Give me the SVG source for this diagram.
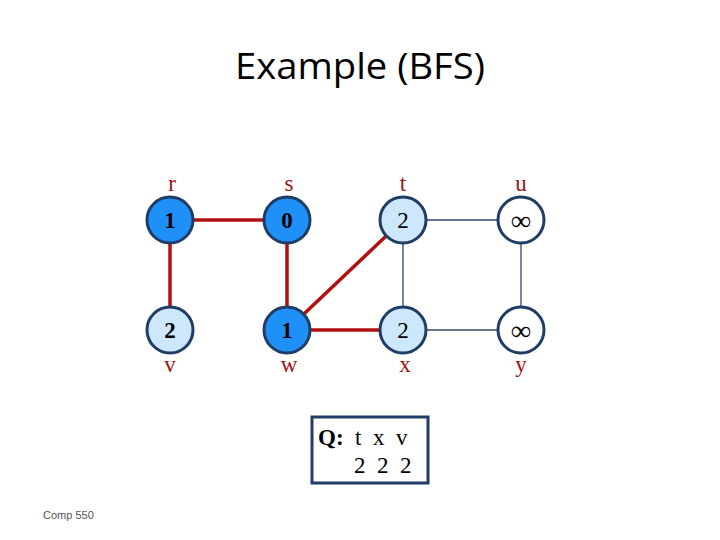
<svg xmlns="http://www.w3.org/2000/svg" width="720" height="540" viewBox="0 0 720 540">
<style>
.title{font-family:"Open Sans","Liberation Sans",Arial,sans-serif;font-size:36px;fill:#000}
.lbl{font-family:"Liberation Serif","Times New Roman",serif;font-size:23px;fill:#A01010;text-anchor:middle}
.num{font-family:"Liberation Serif","Times New Roman",serif;font-size:23px;fill:#000;text-anchor:middle}
.b{font-weight:bold}
.inf{font-size:28px;font-weight:bold}
.node{stroke:#1F3D66;stroke-width:3}
.black{fill:#1E90F8}
.gray{fill:#CDE8FC}
.white{fill:#fff}
.tree{stroke:#B01010;stroke-width:3.5;fill:none}
.edge{stroke:#2F4A6E;stroke-width:1.3;fill:none}
.q{font-family:"Liberation Serif","Times New Roman",serif;font-size:23px;fill:#000}
</style>
<rect width="720" height="540" fill="#fff"/>
<text class="title" x="360" y="79" text-anchor="middle" textLength="250" lengthAdjust="spacingAndGlyphs">Example (BFS)</text>
<g id="edges">
<line class="tree" x1="170" y1="220" x2="287" y2="220"/>
<line class="tree" x1="170" y1="220" x2="170" y2="330"/>
<line class="tree" x1="287" y1="220" x2="287" y2="330"/>
<line class="tree" x1="287" y1="330" x2="403" y2="220"/>
<line class="tree" x1="287" y1="330" x2="403" y2="330"/>
<line class="edge" x1="403" y1="220" x2="521" y2="220"/>
<line class="edge" x1="403" y1="220" x2="403" y2="330"/>
<line class="edge" x1="521" y1="220" x2="521" y2="330"/>
<line class="edge" x1="403" y1="330" x2="521" y2="330"/>
</g>
<g id="r"><circle class="node black" cx="170" cy="220" r="23"/><text class="num b" x="170" y="228">1</text><text class="lbl" x="172" y="191">r</text></g>
<g id="s"><circle class="node black" cx="287" cy="220" r="23"/><text class="num b" x="287" y="228">0</text><text class="lbl" x="289" y="191">s</text></g>
<g id="t"><circle class="node gray" cx="403" cy="220" r="23"/><text class="num" x="403" y="228">2</text><text class="lbl" x="403" y="191">t</text></g>
<g id="u"><circle class="node white" cx="521" cy="220" r="23"/><text class="num inf" x="521" y="230">∞</text><text class="lbl" x="521" y="191">u</text></g>
<g id="v"><circle class="node gray" cx="170" cy="330" r="23"/><text class="num b" x="170" y="338">2</text><text class="lbl" x="170" y="372">v</text></g>
<g id="w"><circle class="node black" cx="287" cy="330" r="23"/><text class="num b" x="287" y="338">1</text><text class="lbl" x="289" y="372">w</text></g>
<g id="x"><circle class="node gray" cx="403" cy="330" r="23"/><text class="num" x="403" y="338">2</text><text class="lbl" x="405" y="372">x</text></g>
<g id="y"><circle class="node white" cx="521" cy="330" r="23"/><text class="num inf" x="521" y="340">∞</text><text class="lbl" x="521" y="372">y</text></g>
<g id="queue">
<rect x="312" y="417" width="116" height="66" fill="#fff" stroke="#1F3D66" stroke-width="3"/>
<text class="q" x="318" y="445" xml:space="preserve"><tspan font-weight="bold">Q:</tspan>  t  x  v</text>
<text class="q" x="354" y="473" xml:space="preserve">2  2  2</text>
</g>
<text x="43" y="519" font-family="Liberation Sans,Arial,sans-serif" font-size="11" fill="#555">Comp 550</text>
</svg>
